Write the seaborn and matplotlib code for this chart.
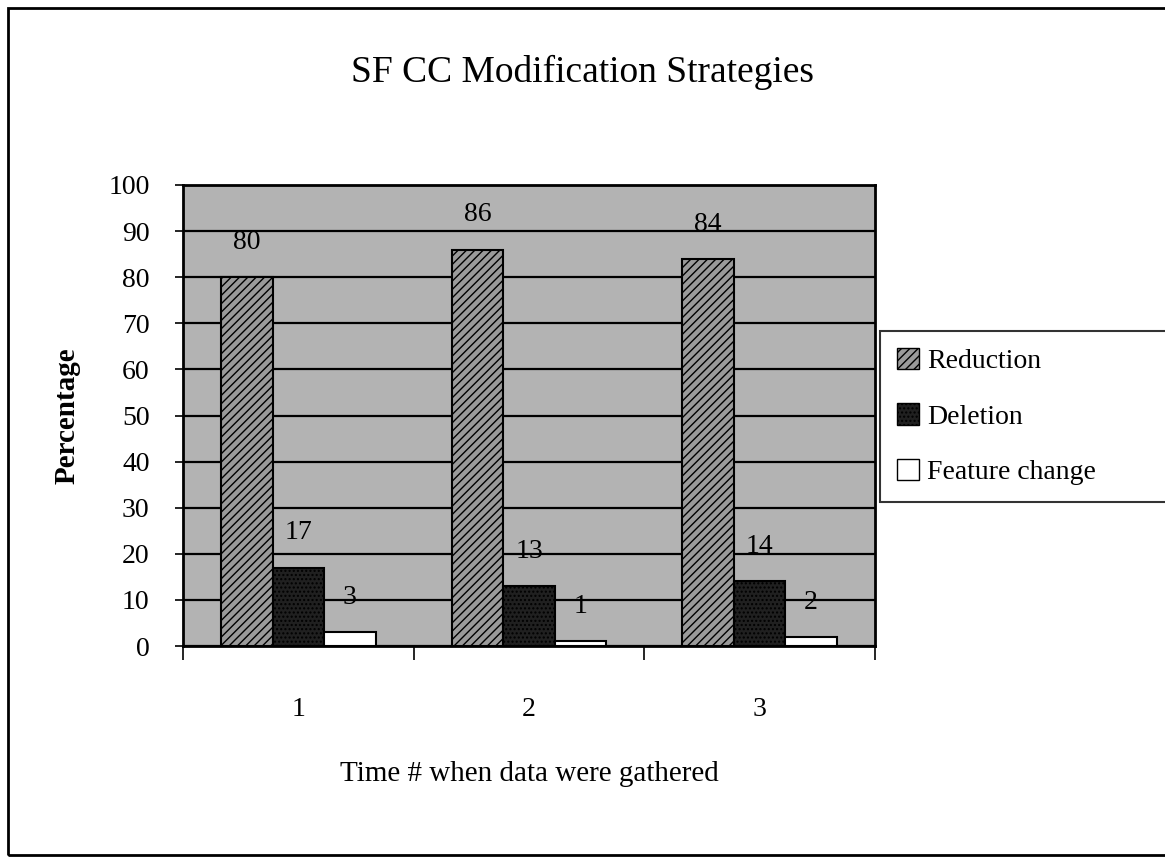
import pandas as pd
import matplotlib.pyplot as plt
import matplotlib.patches as mpatches
import seaborn as sns

# Datos
tiempos = ['1', '2', '3']
reduccion = [80, 86, 84]
eliminacion = [17, 13, 14]
cambio = [3, 1, 2]
series = ['Reduction', 'Deletion', 'Feature change']

df = pd.DataFrame({
    'Time': tiempos * 3,
    'Strategy': [s for s in series for _ in tiempos],
    'Percentage': reduccion + eliminacion + cambio,
})

sns.set_theme(style='white')
plt.rcParams['font.family'] = ['Liberation Serif', 'DejaVu Serif']
plt.rcParams['text.color'] = 'black'
plt.rcParams['axes.labelcolor'] = 'black'
plt.rcParams['hatch.linewidth'] = 1.0

fig = plt.figure(figsize=(11.65, 8.63), dpi=100)
W, H = 1165, 863
ax = fig.add_axes([183 / W, 1 - 646 / H, (875 - 183) / W, (646 - 185) / H])

colores = ['#9a9a9a', '#202020', '#ffffff']
sns.barplot(data=df, x='Time', y='Percentage', hue='Strategy', hue_order=series,
            palette=colores, width=0.67, edgecolor='black', linewidth=1.5,
            saturation=1, ax=ax, legend=False, zorder=3)

hatches = ['////', '....', '']
for cont, h in zip(ax.containers, hatches):
    for bar in cont:
        bar.set_hatch(h)
    ax.bar_label(cont, padding=16, fontsize=20, color='black')

# Fondo y rejilla
ax.set_facecolor('#b3b3b3')
ax.set_ylim(0, 100)
ax.set_xlim(-0.5, 2.5)
ax.set_yticks(range(0, 101, 10))
ax.yaxis.grid(True, color='black', linewidth=1.6, zorder=1)
ax.set_axisbelow(True)
for sp in ax.spines.values():
    sp.set_color('black')
    sp.set_linewidth(2)

ax.set_xticks([0, 1, 2])
ax.set_xticks([-0.5, 0.5, 1.5, 2.5], minor=True)
ax.tick_params(axis='x', which='major', length=0, pad=37, labelsize=20, colors='black')
ax.tick_params(axis='x', which='minor', length=10, width=1.2, color='black', direction='out', bottom=True)
ax.tick_params(axis='y', length=6, width=1.2, direction='out', left=True, pad=18,
               labelsize=20, colors='black')

ax.set_xlabel('Time # when data were gathered', fontsize=21, labelpad=28)
ax.set_ylabel('Percentage', fontsize=21, labelpad=20, fontweight='bold')

fig.suptitle('SF CC Modification Strategies', fontsize=27, x=0.5, y=1 - 72 / H, va='center')

# Leyenda
handles = [mpatches.Patch(facecolor=c, edgecolor='black', hatch=h, label=s)
           for c, h, s in zip(colores, hatches, series)]
leg = fig.legend(handles=handles, loc='upper left',
                 bbox_to_anchor=(880 / W, 1 - 340 / H, 330 / W, 0.01), mode='expand',
                 fontsize=20, frameon=True, fancybox=False, handlelength=0.8, handleheight=0.8,
                 handletextpad=0.3, labelspacing=1.05, borderpad=0.6, borderaxespad=0)
leg.get_frame().set_edgecolor('black')
leg.get_frame().set_linewidth(1.5)

# Marco exterior de la figura
fig.patches.append(mpatches.Rectangle((8 / W, 8 / H), 1.2, 1 - 16 / H, transform=fig.transFigure,
                                      fill=False, edgecolor='black', linewidth=2))

plt.savefig('out.png', dpi=100)
